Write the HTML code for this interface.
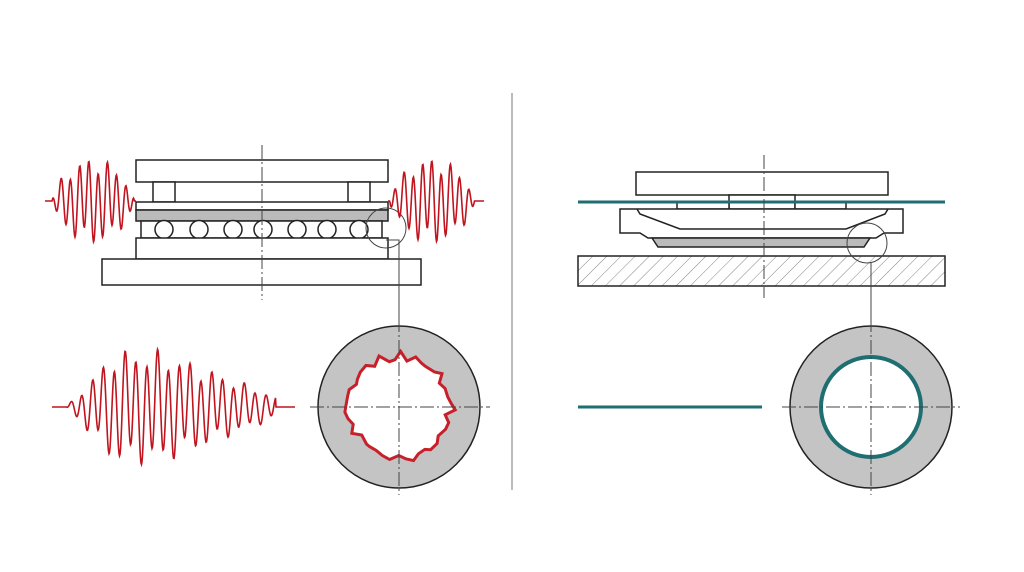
<!DOCTYPE html>
<html><head><style>
html,body{margin:0;padding:0;background:#fff;width:1024px;height:572px;overflow:hidden}
</style></head><body>
<svg id="s" width="1024" height="572" viewBox="0 0 1024 572" xmlns="http://www.w3.org/2000/svg">
<defs>
<pattern id="h" width="10" height="10" patternUnits="userSpaceOnUse" patternTransform="rotate(45)">
<line x1="0" y1="0" x2="0" y2="10" stroke="#666" stroke-width="0.8"/>
</pattern>
</defs>
<g fill="#fff" stroke="#222" stroke-width="1.5">
<rect x="136" y="160" width="252" height="22"/>
<rect x="153" y="182" width="22" height="20"/>
<rect x="348" y="182" width="22" height="20"/>
<rect x="136" y="202" width="252" height="8"/>
<rect x="136" y="210" width="252" height="11" fill="#bbb"/>
<rect x="141" y="221" width="241" height="17"/>
<g id="rollers"></g>
<rect x="136" y="238" width="252" height="21"/>
<rect x="102" y="259" width="319" height="26"/>
<rect x="636" y="172" width="252" height="23"/>
<rect x="729" y="195" width="66" height="14"/>
<rect x="677" y="202" width="52" height="7"/>
<rect x="795" y="202" width="51" height="7"/>
<path d="M620 209 H903 V233 H884 L876 238 H648 L640 233 H620 Z"/>
<path d="M637 209 L640 214 L680 229 H846 L885 214 L888 209" fill="none"/>
<path d="M652 238 L658 247 H864 L870 238 Z" fill="#bbb"/>
<rect x="578" y="256" width="367" height="30" fill="url(#h)"/>
<circle cx="399" cy="407" r="81" fill="#c4c4c4"/>
<circle cx="871" cy="407" r="81" fill="#c4c4c4"/>
</g>
<circle cx="871" cy="407" r="50" fill="#fff" stroke="#1e6e72" stroke-width="4"/>
<polygon id="jag" fill="#fff" stroke="#c8202a" stroke-width="3" stroke-linejoin="miter"/>
<line x1="578" y1="202" x2="945" y2="202" stroke="#1e6e72" stroke-width="3"/>
<line x1="578" y1="407" x2="762" y2="407" stroke="#1e6e72" stroke-width="3"/>
<g stroke="#444" stroke-width="1" stroke-dasharray="14 3 2 3" fill="none">
<line x1="262" y1="145" x2="262" y2="300"/>
<line x1="764" y1="155" x2="764" y2="298"/>
<line x1="399" y1="318" x2="399" y2="495"/>
<line x1="310" y1="407" x2="490" y2="407"/>
<line x1="871" y1="318" x2="871" y2="495"/>
<line x1="782" y1="407" x2="960" y2="407"/>
</g>
<g stroke="#444" stroke-width="1" fill="none">
<circle cx="386" cy="228" r="20"/>
<polyline points="386,240 399,240 399,330"/>
<circle cx="867" cy="243" r="20"/>
<line x1="871" y1="263" x2="871" y2="330"/>
<line x1="512" y1="93" x2="512" y2="490" stroke="#777"/>
</g>
<g id="waves" fill="none" stroke="#c0141e" stroke-width="1.6"></g>
</svg>
<script>
var ns="http://www.w3.org/2000/svg";
var r=document.getElementById("rollers");
[164,199,233,263,297,327,359].forEach(function(x){var c=document.createElementNS(ns,"circle");c.setAttribute("cx",x);c.setAttribute("cy",229.5);c.setAttribute("r",9);r.appendChild(c);});
var pts=[],n=44,seed=11;function rnd(){seed=(seed*9301+49297)%233280;return seed/233280;}
for(var i=0;i<n;i++){var a=i/n*2*Math.PI+rnd()*0.08;var rr=46+rnd()*8+(i%3==0?3:0);pts.push((399+rr*Math.cos(a)).toFixed(1)+","+(407+rr*Math.sin(a)).toFixed(1));}
document.getElementById("jag").setAttribute("points",pts.join(" "));
function wave(x0,x1,cy,amp,env,freq,ph){var d="M"+x0+" "+cy;
for(var x=x0;x<=x1;x+=0.5){var t=(x-x0)/(x1-x0);var e=env(t);var y=cy+amp*e*(Math.sin((x-x0)*freq+ph)*0.85+0.2*Math.sin((x-x0)*freq*0.37+1));d+=" L"+x.toFixed(1)+" "+y.toFixed(1);}
var p=document.createElementNS(ns,"path");p.setAttribute("d",d);document.getElementById("waves").appendChild(p);}
function flat(a,b){return function(t){return (t<a||t>b)?0:Math.pow(Math.sin((t-a)/(b-a)*Math.PI),0.6);};}
wave(45,136,201,42,flat(0.08,0.98),0.68,0);
wave(388,484,201,42,flat(0.02,0.9),0.68,0);
wave(52,295,407,55,function(t){if(t<0.06||t>0.92)return 0;return t<0.45?Math.min(1,(t-0.06)*5):Math.max(0.2,1-(t-0.45)*1.7);},0.58,0);
</script>
</body></html>
